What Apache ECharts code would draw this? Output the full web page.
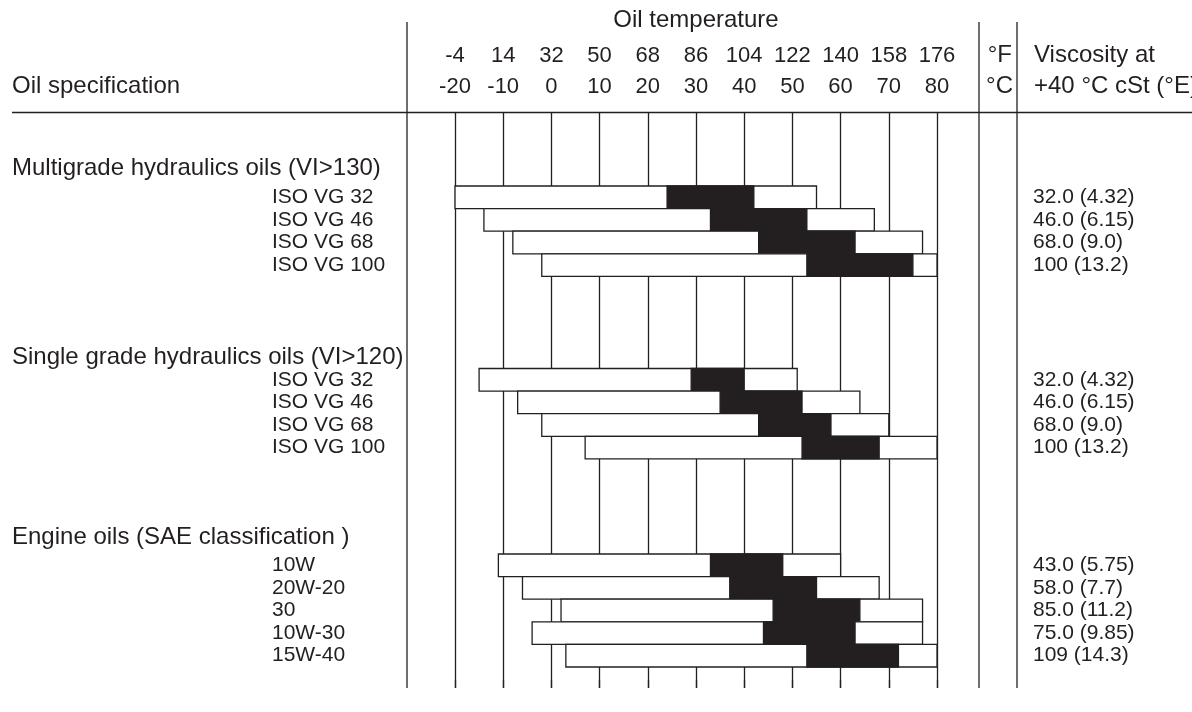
<!DOCTYPE html>
<html>
<head>
<meta charset="utf-8">
<script src="https://cdn.jsdelivr.net/npm/echarts@6/dist/echarts.min.js"></script>
<style>
  html, body { margin: 0; padding: 0; background: #fff; }
  #chart { width: 1192px; height: 712px; }
</style>
</head>
<body>
<div id="chart"></div>
<script>
// tick labels
const celsiusMin = -20;
const celsiusMax = 80;
const fahrenheitTicks = [-4, 14, 32, 50, 68, 86, 104, 122, 140, 158, 176];

// section titles
const sectionTitles = [
  "Multigrade hydraulics oils (VI>130)",
  "Single grade hydraulics oils (VI>120)",
  "Engine oils (SAE classification )",
];

// each range: [start, optimum start, optimum end, end] in °C
const multigradeNames = ["ISO VG 32", "ISO VG 46", "ISO VG 68", "ISO VG 100"];
const multigradeRanges = [
  [-20, 24, 42, 55],
  [-14, 33, 53, 67],
  [-8, 43, 63, 77],
  [-2, 53, 75, 80],
];
const multigradeViscosity = ["32.0 (4.32)", "46.0 (6.15)", "68.0 (9.0)", "100 (13.2)"];

const singleNames = ["ISO VG 32", "ISO VG 46", "ISO VG 68", "ISO VG 100"];
const singleRanges = [
  [-15, 29, 40, 51],
  [-7, 35, 52, 64],
  [-2, 43, 58, 70],
  [7, 52, 68, 80],
];
const singleViscosity = ["32.0 (4.32)", "46.0 (6.15)", "68.0 (9.0)", "100 (13.2)"];

const engineNames = ["10W", "20W-20", "30", "10W-30", "15W-40"];
const engineRanges = [
  [-11, 33, 48, 60],
  [-6, 37, 55, 68],
  [2, 46, 64, 77],
  [-4, 44, 63, 77],
  [3, 53, 72, 80],
];
const engineViscosity = ["43.0 (5.75)", "58.0 (7.7)", "85.0 (11.2)", "75.0 (9.85)", "109 (14.3)"];

const INK = "#231f20";
const FONT = "Liberation Sans";

const chart = echarts.init(document.getElementById("chart"));

const sections = [
  { names: multigradeNames, ranges: multigradeRanges, visc: multigradeViscosity, top: 186, titleY: 168 },
  { names: singleNames, ranges: singleRanges, visc: singleViscosity, top: 368.5, titleY: 357 },
  { names: engineNames, ranges: engineRanges, visc: engineViscosity, top: 554, titleY: 537 },
];
const ROW_H = 22.6;

function renderBar(params, api) {
  const cat = api.value(0);
  const p0 = api.coord([api.value(1), cat]);
  const xb0 = api.coord([api.value(2), cat])[0];
  const xb1 = api.coord([api.value(3), cat])[0];
  const x1 = api.coord([api.value(4), cat])[0];
  const h = api.size([0, 1])[1];
  const y = p0[1] - h / 2;
  return {
    type: "group",
    children: [
      {
        type: "rect",
        shape: { x: p0[0], y: y, width: x1 - p0[0], height: h },
        style: { fill: "#fff", stroke: INK, lineWidth: 1.3 },
      },
      {
        type: "rect",
        shape: { x: xb0, y: y, width: xb1 - xb0, height: h },
        style: { fill: INK, stroke: INK, lineWidth: 1.3 },
      },
    ],
  };
}

const grids = [{ left: 455, right: 255, top: 113, height: 575 }];
const xAxes = [
  {
    gridIndex: 0,
    type: "value",
    position: "top",
    min: celsiusMin,
    max: celsiusMax,
    interval: 10,
    name: "Oil temperature",
    nameLocation: "middle",
    nameGap: 81,
    nameTextStyle: { fontFamily: FONT, fontSize: 24, color: INK },
    axisLine: { show: false },
    axisTick: { show: true, length: 8, lineStyle: { color: INK, width: 1.3 } },
    splitLine: { show: true, lineStyle: { color: INK, width: 1.3 } },
    axisLabel: {
      margin: 11,
      formatter: (v) => {
        const i = Math.round((v - celsiusMin) / 10);
        return "{f|" + fahrenheitTicks[i] + "}\n{c|" + v + "}";
      },
      rich: {
        f: { fontFamily: FONT, fontSize: 22, color: INK, lineHeight: 31 },
        c: { fontFamily: FONT, fontSize: 22, color: INK, lineHeight: 31 },
      },
    },
  },
];
const yAxes = [{ gridIndex: 0, type: "value", show: false }];
const series = [];
const graphics = [];

sections.forEach((s, k) => {
  const gi = k + 1;
  grids.push({ left: 455, right: 255, top: s.top, height: ROW_H * s.names.length });
  xAxes.push({ gridIndex: gi, type: "value", min: celsiusMin, max: celsiusMax, show: false });
  yAxes.push({
    gridIndex: gi,
    type: "category",
    inverse: true,
    data: s.names,
    axisLine: { show: false },
    axisTick: { show: false },
    axisLabel: { interval: 0, align: "left", margin: 183, fontFamily: FONT, fontSize: 21, color: INK },
  });
  yAxes.push({
    gridIndex: gi,
    type: "category",
    inverse: true,
    position: "right",
    data: s.visc,
    axisLine: { show: false },
    axisTick: { show: false },
    axisLabel: { interval: 0, align: "left", margin: 96, fontFamily: FONT, fontSize: 21, color: INK },
  });
  series.push({
    type: "custom",
    xAxisIndex: gi,
    yAxisIndex: yAxes.length - 2,
    renderItem: renderBar,
    encode: { x: [1, 2, 3, 4], y: 0 },
    data: s.ranges.map((r, i) => [i, r[0], r[1], r[2], r[3]]),
    silent: true,
  });
  graphics.push({
    type: "text",
    x: 12,
    y: s.titleY,
    style: { text: sectionTitles[k], font: "24px '" + FONT + "'", fill: INK, verticalAlign: "middle" },
  });
});

// header texts and frame lines
const headerTexts = [
  { text: "Oil specification", x: 12, y: 86 },
  { text: "°F", x: 1012, y: 55, align: "right" },
  { text: "°C", x: 1013, y: 86, align: "right" },
  { text: "Viscosity at", x: 1034, y: 55 },
  { text: "+40 °C cSt (°E)", x: 1034, y: 86 },
];
headerTexts.forEach((t) => {
  graphics.push({
    type: "text",
    x: t.x,
    y: t.y,
    style: { text: t.text, font: "24px '" + FONT + "'", fill: INK, verticalAlign: "middle", align: t.align || "left" },
  });
});
graphics.push({ type: "line", shape: { x1: 12, y1: 112.5, x2: 1192, y2: 112.5 }, style: { stroke: INK, lineWidth: 1.3 } });
[407, 979, 1017].forEach((x) => {
  graphics.push({ type: "line", shape: { x1: x, y1: 22, x2: x, y2: 688 }, style: { stroke: INK, lineWidth: 1.3 } });
});

chart.setOption({
  backgroundColor: "#fff",
  animation: false,
  grid: grids,
  xAxis: xAxes,
  yAxis: yAxes,
  series: series,
  graphic: graphics,
});
</script>
</body>
</html>
